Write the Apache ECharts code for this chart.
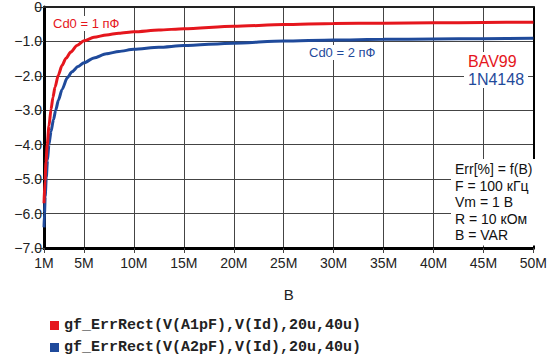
<!DOCTYPE html>
<html>
<head>
<meta charset="utf-8">
<script src="https://cdn.jsdelivr.net/npm/echarts@6/dist/echarts.min.js"></script>
<style>html,body{margin:0;padding:0;background:#fff;overflow:hidden}.c{width:550px;height:355px}</style>
</head>
<body>
<div class="c" id="p0"></div>
<script>
// x in MHz ("M")
const redX  = [1.0, 1.1, 1.2, 1.32, 1.5, 1.7, 1.9, 2.1, 2.43, 2.8, 3.2, 3.67, 4.3, 5, 6, 7.25, 8.5, 10, 12.5, 15, 20, 25, 30, 35, 40, 45, 50];
const redY  = [-5.7, -5.05, -4.5, -4.0, -3.45, -2.98, -2.62, -2.33, -1.98, -1.70, -1.49, -1.31, -1.12, -0.98, -0.88, -0.81, -0.76, -0.72, -0.67, -0.63, -0.56, -0.51, -0.48, -0.47, -0.46, -0.45, -0.44];
const blueX = [1.0, 1.05, 1.12, 1.23, 1.35, 1.49, 1.7, 1.95, 2.17, 2.45, 2.8, 3.34, 3.8, 4.4, 5, 6, 7.25, 8.5, 10, 12.5, 15, 20, 25, 30, 35, 40, 45, 50];
const blueY = [-6.4, -6.0, -5.5, -4.95, -4.45, -4.0, -3.62, -3.27, -3.0, -2.7, -2.4, -2.05, -1.88, -1.73, -1.62, -1.48, -1.36, -1.29, -1.23, -1.17, -1.12, -1.05, -0.99, -0.96, -0.94, -0.93, -0.92, -0.91];
const xTicks = [1, 5, 10, 15, 20, 25, 30, 35, 40, 45, 50];
const seriesNames = ['gf_ErrRect(V(A1pF),V(Id),20u,40u)', 'gf_ErrRect(V(A2pF),V(Id),20u,40u)'];
const infoLines = ['Err[%] = f(B)', 'F = 100 кГц', 'Vm = 1 В', 'R = 10 кОм', 'B = VAR'];

const RED = '#e5161d', BLUE = '#1f4a9b';
const FONT = "'Liberation Sans', Arial, sans-serif";
const MONO = "'Liberation Mono', 'Courier New', monospace";
const GRIDC = '#444';
const zip = (xs, ys) => xs.map((x, i) => [x, ys[i]]);

const option = {
  animation: false, backgroundColor: '#fff', textStyle: {fontFamily: FONT},
  grid: {left: 44, right: 4, top: 7, bottom: 107},
  xAxis: [{
    type: 'value', min: 1, max: 50, position: 'bottom',
    name: 'B', nameLocation: 'middle', nameGap: 39,
    nameTextStyle: {fontFamily: FONT, fontSize: 15, color: '#222'},
    axisLine: {show: true, onZero: false, lineStyle: {color: '#000', width: 3}},
    axisTick: {show: true, customValues: xTicks, length: 5, lineStyle: {color: GRIDC}},
    axisLabel: {customValues: xTicks, formatter: v => v + 'M', fontFamily: FONT, fontSize: 14, color: '#222', margin: 8},
    splitLine: {show: true, lineStyle: {color: GRIDC, width: 1}}
  }, {
    type: 'value', min: 1, max: 50, position: 'top',
    axisLine: {show: true, onZero: false, lineStyle: {color: '#222', width: 2}},
    axisTick: {show: false}, axisLabel: {show: false}, splitLine: {show: false}
  }],
  yAxis: [{
    type: 'value', min: -7, max: 0, interval: 1, position: 'left',
    axisLine: {show: true, onZero: false, lineStyle: {color: '#000', width: 3}},
    axisTick: {show: true, length: 9, lineStyle: {color: GRIDC}},
    axisLabel: {formatter: v => v === 0 ? '0' : v.toFixed(1).replace('-', '\u2212'), fontFamily: FONT, fontSize: 14, color: '#222', margin: 2},
    splitLine: {show: true, lineStyle: {color: GRIDC, width: 1}}
  }, {
    type: 'value', min: -7, max: 0, interval: 1, position: 'right',
    axisLine: {show: true, onZero: false, lineStyle: {color: '#000', width: 2}},
    axisTick: {show: false}, axisLabel: {show: false}, splitLine: {show: false}
  }],
  legend: [
    {left: 45, top: 313, icon: 'rect', itemWidth: 9, itemHeight: 9, itemGap: 0,
     textStyle: {fontFamily: MONO, fontWeight: 'bold', fontSize: 15, color: '#222'}, data: [seriesNames[0]]},
    {left: 45, top: 335, icon: 'rect', itemWidth: 9, itemHeight: 9, itemGap: 0,
     textStyle: {fontFamily: MONO, fontWeight: 'bold', fontSize: 15, color: '#222'}, data: [seriesNames[1]]}
  ],
  series: [
    {name: seriesNames[0], type: 'line', data: zip(redX, redY), showSymbol: false, smooth: 0.25, smoothMonotone: 'x',
     lineStyle: {color: RED, width: 3}, itemStyle: {color: RED}, z: 3},
    {name: seriesNames[1], type: 'line', data: zip(blueX, blueY), showSymbol: false, smooth: 0.25, smoothMonotone: 'x',
     lineStyle: {color: BLUE, width: 3}, itemStyle: {color: BLUE}, z: 2}
  ],
  graphic: [
    {type: 'text', left: 51, top: 16, z: 10, style: {text: 'Cd0 = 1 пФ', fill: RED, font: '13px ' + FONT, backgroundColor: '#fff', padding: [1, 2]}},
    {type: 'text', left: 307, top: 45, z: 10, style: {text: 'Cd0 = 2 пФ', fill: BLUE, font: '13px ' + FONT, backgroundColor: '#fff', padding: [1, 2]}},
    {type: 'text', left: 464, top: 52, z: 10, style: {text: 'BAV99', fill: RED, font: '16px ' + FONT, backgroundColor: '#fff', padding: [1, 4]}},
    {type: 'text', left: 464, top: 70, z: 10, style: {text: '1N4148', fill: BLUE, font: '16px ' + FONT, backgroundColor: '#fff', padding: [1, 4]}},
    {type: 'text', left: 451, top: 159, z: 10, style: {text: infoLines.join('\n'), fill: '#111', font: '14px ' + FONT, lineHeight: 16.5, backgroundColor: '#fff', padding: [2, 4]}}
  ]
};
echarts.init(document.getElementById('p0'), null, {renderer: 'svg'}).setOption(option);
</script>
</body>
</html>
